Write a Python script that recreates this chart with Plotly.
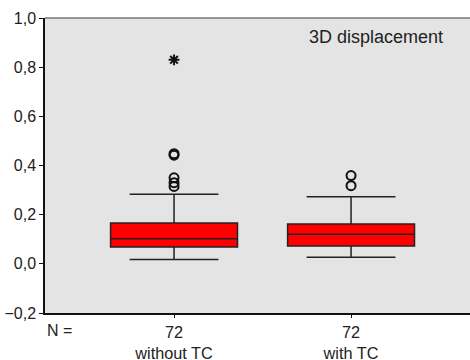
import plotly.graph_objects as go

categories = ["without TC", "with TC"]
n_counts = [72, 72]
q1 = [0.068, 0.073]
medians = [0.102, 0.120]
q3 = [0.166, 0.162]
lower_whisker = [0.018, 0.027]
upper_whisker = [0.283, 0.273]
outliers = [[0.448, 0.442, 0.35, 0.33, 0.315], [0.359, 0.318]]
extremes = [[0.83], []]
y_ticks = [-0.2, 0.0, 0.2, 0.4, 0.6, 0.8, 1.0]
title_text = "3D displacement"

fig = go.Figure()
xs = list(range(len(categories)))
for i, cat in enumerate(categories):
    fig.add_trace(go.Box(
        x=[xs[i]], q1=[q1[i]], median=[medians[i]], q3=[q3[i]],
        lowerfence=[lower_whisker[i]], upperfence=[upper_whisker[i]],
        width=0.717, whiskerwidth=0.7, boxpoints=False,
        fillcolor="#FF0000", line=dict(color="#222222", width=1.5),
        name=cat, showlegend=False, hoverinfo="skip",
    ))
    if outliers[i]:
        fig.add_trace(go.Scatter(
            x=[xs[i]] * len(outliers[i]), y=outliers[i], mode="markers",
            marker=dict(symbol="circle-open", size=9, color="#111111",
                        line=dict(width=2, color="#111111")),
            showlegend=False, hoverinfo="skip",
        ))
    if extremes[i]:
        fig.add_trace(go.Scatter(
            x=[xs[i]] * len(extremes[i]), y=extremes[i], mode="markers",
            marker=dict(symbol="asterisk-open", size=9, color="#111111",
                        line=dict(width=2, color="#111111")),
            showlegend=False, hoverinfo="skip",
        ))

ticktext = [f"{n}<br>{c}" for n, c in zip(n_counts, categories)]

fig.update_layout(
    width=470, height=360,
    margin=dict(l=45, r=0, t=18, b=47, autoexpand=False),
    paper_bgcolor="white", plot_bgcolor="#E4E4E4",
    separators=", ",
    font=dict(family="Liberation Sans, Arial, sans-serif", size=16, color="#222222"),
    xaxis=dict(range=[-0.729, 1.672], tickvals=xs, ticktext=ticktext,
               showgrid=False, zeroline=False, showline=True, linecolor="#111111",
               linewidth=2, ticks="outside", ticklen=3, tickcolor="#111111",
               tickfont=dict(size=16.3), automargin=False),
    yaxis=dict(range=[-0.2, 1.0], tickvals=y_ticks, tickformat=".1f",
               showgrid=False, zeroline=False, showline=True, linecolor="#111111",
               linewidth=1.5, ticks="outside", ticklen=4, tickcolor="#111111",
               tickfont=dict(size=16), automargin=False),
    shapes=[dict(type="line", xref="paper", yref="paper", x0=0, x1=1, y0=1, y1=1,
                 line=dict(color="#777777", width=1.5))],
    annotations=[
        dict(text=title_text, xref="paper", yref="paper", x=0.779, y=0.936,
             xanchor="center", yanchor="middle", showarrow=False,
             font=dict(size=18, color="#222222")),
        dict(text="N =", xref="paper", yref="paper", x=0.0, y=-0.058,
             xanchor="left", yanchor="middle", showarrow=False,
             font=dict(size=16, color="#222222")),
    ],
)

fig.write_html(
    "out.html",
    config={"displayModeBar": False},
    post_script="document.body.style.margin='0';document.body.style.overflow='hidden';",
)
